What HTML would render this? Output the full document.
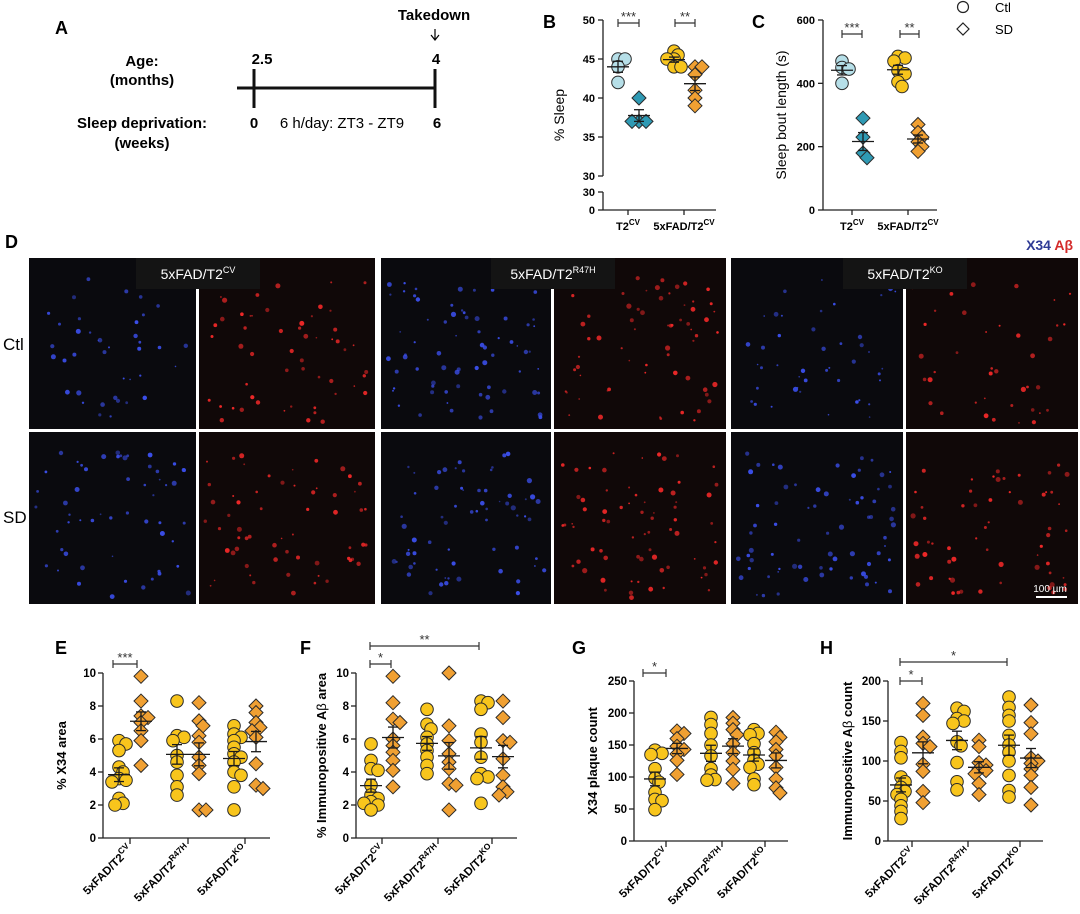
<!DOCTYPE html>
<html><head><meta charset="utf-8"><title>Sleep deprivation figure</title>
<style>
html,body{margin:0;padding:0;background:#fff;}
svg{display:block;font-family:"Liberation Sans",Arial,sans-serif;}
.b{font-weight:bold;}
</style></head>
<body>
<svg id="fig" width="1080" height="914" viewBox="0 0 1080 914" xmlns="http://www.w3.org/2000/svg">
  <g>
    <text x="55" y="34" font-size="18" class="b">A</text>
    <text x="434" y="20" font-size="15" class="b" text-anchor="middle">Takedown</text>
    <line x1="435" y1="29" x2="435" y2="39" stroke="#000" stroke-width="1.2"/>
    <path d="M431,35 L435,40 L439,35" fill="none" stroke="#000" stroke-width="1.2"/>
    <text x="142" y="66" font-size="15" class="b" text-anchor="middle">Age:</text>
    <text x="142" y="85" font-size="15" class="b" text-anchor="middle">(months)</text>
    <text x="262" y="64" font-size="15" class="b" text-anchor="middle">2.5</text>
    <text x="436" y="64" font-size="15" class="b" text-anchor="middle">4</text>
    <line x1="237" y1="88" x2="435" y2="88" stroke="#111" stroke-width="3"/>
    <line x1="254" y1="69" x2="254" y2="108" stroke="#111" stroke-width="3"/>
    <line x1="435" y1="69" x2="435" y2="108" stroke="#111" stroke-width="3"/>
    <text x="142" y="128" font-size="15" class="b" text-anchor="middle">Sleep deprivation:</text>
    <text x="142" y="148" font-size="15" class="b" text-anchor="middle">(weeks)</text>
    <text x="254" y="128" font-size="15" class="b" text-anchor="middle">0</text>
    <text x="437" y="128" font-size="15" class="b" text-anchor="middle">6</text>
    <text x="342" y="128" font-size="15" text-anchor="middle">6 h/day: ZT3 - ZT9</text>
  </g>
  <g>
    <circle cx="963" cy="7" r="5.5" fill="#fff" stroke="#222" stroke-width="1.2"/>
    <text x="995" y="12" font-size="13">Ctl</text>
    <path d="M963,23 L969,29 L963,35 L957,29 Z" fill="#fff" stroke="#222" stroke-width="1.2"/>
    <text x="995" y="34" font-size="13">SD</text>
  </g>
  <g id="charts"></g>
  <g id="panelD"></g>
</svg>
<script>
const B_categories = ["T2CV", "5xFAD/T2CV"];
const B_t2_ctl = [45, 45, 44, 42];
const B_t2_sd = [40, 37, 37, 37];
const B_fad_ctl = [46, 45.5, 45, 44, 44, 45];
const B_fad_sd = [44, 44, 43, 41, 40, 39];
const B_ticks = [30, 35, 40, 45, 50];
const C_t2_ctl = [470, 450, 445, 400];
const C_t2_sd = [290, 230, 180, 165];
const C_fad_ctl = [480, 485, 470, 440, 430, 405, 390];
const C_fad_sd = [270, 245, 230, 215, 200, 185];
const C_ticks = [0, 200, 400, 600];
const EH_categories = ["CV", "R47H", "KO"];
const E_ticks = [0, 2, 4, 6, 8, 10];
const E_cv_ctl = [5.9, 5.7, 5.3, 4.3, 4.0, 3.6, 3.5, 3.4, 2.4, 2.1, 2.0];
const E_cv_sd = [9.8, 8.3, 7.3, 7.4, 7.0, 6.5, 5.9, 4.4];
const E_r47h_ctl = [8.3, 6.2, 6.1, 5.9, 5.0, 4.6, 3.8, 3.1, 2.6];
const E_r47h_sd = [8.2, 7.1, 6.8, 6.2, 5.8, 4.9, 4.4, 3.9, 1.7, 1.7];
const E_ko_ctl = [6.8, 6.3, 6.1, 5.9, 5.5, 5.1, 4.9, 4.6, 4.0, 3.8, 3.1, 1.7];
const E_ko_sd = [8.0, 7.6, 7.0, 6.7, 6.5, 6.1, 4.5, 3.2, 3.0];
const F_ticks = [0, 2, 4, 6, 8, 10];
const F_cv_ctl = [5.7, 4.7, 4.2, 4.1, 3.2, 2.6, 2.4, 2.2, 2.1, 2.0, 1.7];
const F_cv_sd = [9.8, 8.2, 7.2, 7.0, 6.0, 5.6, 5.2, 4.7, 4.1, 3.1];
const F_r47h_ctl = [7.8, 6.9, 6.6, 6.1, 5.7, 5.3, 4.9, 4.4, 3.9];
const F_r47h_sd = [10, 6.8, 5.9, 5.1, 4.6, 4.2, 3.3, 3.2, 1.7];
const F_ko_ctl = [8.3, 8.2, 7.8, 6.3, 5.8, 4.9, 3.9, 3.7, 3.6, 2.1];
const F_ko_sd = [8.3, 7.3, 5.9, 5.8, 4.8, 3.8, 3.1, 2.8, 2.6];
const G_ticks = [0, 50, 100, 150, 200, 250];
const G_cv_ctl = [142, 137, 135, 113, 98, 92, 76, 65, 63, 49];
const G_cv_sd = [172, 168, 160, 148, 143, 136, 126, 104];
const G_r47h_ctl = [193, 182, 168, 150, 133, 113, 103, 96, 95];
const G_r47h_sd = [193, 184, 174, 166, 152, 138, 125, 112, 90];
const G_ko_ctl = [174, 168, 166, 152, 138, 126, 120, 115, 97, 88];
const G_ko_sd = [170, 162, 155, 143, 133, 115, 97, 83, 75];
const H_ticks = [0, 50, 100, 150, 200];
const H_cv_ctl = [123, 112, 104, 80, 74, 67, 62, 58, 52, 44, 37, 28];
const H_cv_sd = [172, 157, 130, 122, 118, 96, 87, 62, 48];
const H_r47h_ctl = [166, 162, 153, 150, 147, 124, 119, 98, 74, 64];
const H_r47h_sd = [126, 118, 98, 95, 90, 88, 84, 72, 58];
const H_ko_ctl = [180, 167, 157, 150, 132, 120, 111, 100, 82, 63, 55];
const H_ko_sd = [170, 148, 134, 104, 100, 97, 90, 82, 67, 45];

const NS = "http://www.w3.org/2000/svg";
const root = document.getElementById("charts");
function mk(tag, attrs, parent) {
  const e = document.createElementNS(NS, tag);
  for (const k in attrs) e.setAttribute(k, attrs[k]);
  (parent || root).appendChild(e);
  return e;
}
function mean(a) { return a.reduce((s, v) => s + v, 0) / a.length; }
function sem(a) { const m = mean(a); const v = a.reduce((s, x) => s + (x - m) * (x - m), 0) / (a.length - 1); return Math.sqrt(v / a.length); }

const YEL = "#f8c51c", ORA = "#f0a032", LBLUE = "#b6dfe8", TEAL = "#2f9ab4";

function drawGroup(g, vals, cx, yfn, shape, color, name) {
  const placed = [];
  const order = vals.map((v, i) => i).sort((a, b) => vals[b] - vals[a]);
  const grp = mk("g", {}, g);
  
  
  for (const i of order) {
    const y = yfn(vals[i]);
    const offs = [0, 4, -4, 7, -7];
    let x = cx;
    for (const o of offs) {
      if (placed.every(p => Math.hypot(p[0] - (cx + o), p[1] - y) > 5.5)) { x = cx + o; break; }
    }
    placed.push([x, y]);
    let m;
    if (shape === "c") m = mk("circle", { cx: x, cy: y, r: 6.3, fill: color, stroke: "#2a2a2a", "stroke-width": 1 }, grp);
    else m = mk("path", { d: `M${x},${y - 7} L${x + 7},${y} L${x},${y + 7} L${x - 7},${y} Z`, fill: color, stroke: "#2a2a2a", "stroke-width": 1 }, grp);
    
    
  }
  const mu = mean(vals), se = sem(vals);
  const st = { stroke: "#1a1a1a", "stroke-width": 1.3 };
  const ml = mk("line", Object.assign({ x1: cx - 11, x2: cx + 11, y1: yfn(mu), y2: yfn(mu) }, st), grp);
  
  
  mk("line", Object.assign({ x1: cx, x2: cx, y1: yfn(mu + se), y2: yfn(mu - se) }, st), grp);
  mk("line", Object.assign({ x1: cx - 5, x2: cx + 5, y1: yfn(mu + se), y2: yfn(mu + se) }, st), grp);
  mk("line", Object.assign({ x1: cx - 5, x2: cx + 5, y1: yfn(mu - se), y2: yfn(mu - se) }, st), grp);
}
function bracket(g, x1, x2, y, stars, name) {
  const bg = mk("g", { stroke: "#333", "stroke-width": 1.2 }, g);
  
  
  mk("line", { x1: x1, x2: x2, y1: y, y2: y }, bg);
  mk("line", { x1: x1, x2: x1, y1: y - 4, y2: y + 4 }, bg);
  mk("line", { x1: x2, x2: x2, y1: y - 4, y2: y + 4 }, bg);
  const t = mk("text", { x: (x1 + x2) / 2, y: y - 2, "font-size": 13, "text-anchor": "middle", fill: "#333", stroke: "none" }, g);
  t.textContent = stars;
}
function label(g, x, y, txt, size, bold, name, anchor) {
  const t = mk("text", { x: x, y: y, "font-size": size, "text-anchor": anchor || "start", "font-weight": bold ? "bold" : "normal" }, g);
  t.textContent = txt;
  
  
  return t;
}

(function () {
  const g = mk("g", {});  
  label(g, 543, 28, "B", 18, true, "panel-b-label");
  const ax = 603, y30 = 176, k = 7.8;
  const y = v => y30 - (v - 30) * k;
  const axs = { stroke: "#222", "stroke-width": 1.3 };
  mk("line", Object.assign({ x1: ax, x2: ax, y1: y(50), y2: y30 }, axs), g);
  mk("line", Object.assign({ x1: ax, x2: ax, y1: 192, y2: 210 }, axs), g);
  mk("line", Object.assign({ x1: ax, x2: 716, y1: 210, y2: 210 }, axs), g);
  for (const t of B_ticks) {
    mk("line", Object.assign({ x1: ax - 5, x2: ax, y1: y(t), y2: y(t) }, axs), g);
    label(g, ax - 8, y(t) + 4, String(t), 11, true, "y-tick-label", "end");
  }
  mk("line", Object.assign({ x1: ax - 5, x2: ax, y1: 192, y2: 192 }, axs), g);
  label(g, ax - 8, 196, "30", 11, true, "y-tick-label", "end");
  mk("line", Object.assign({ x1: ax - 5, x2: ax, y1: 210, y2: 210 }, axs), g);
  label(g, ax - 8, 214, "0", 11, true, "y-tick-label", "end");
  const t = label(g, 0, 0, "% Sleep", 14, false, "y-axis-title", "middle");
  t.setAttribute("transform", "translate(564,115) rotate(-90)");
  [628, 684].forEach(c => mk("line", Object.assign({ x1: c, x2: c, y1: 210, y2: 215 }, axs), g));
  drawGroup(g, B_t2_ctl, 618, y, "c", LBLUE, "t2-ctl");
  drawGroup(g, B_t2_sd, 639, y, "d", TEAL, "t2-sd");
  drawGroup(g, B_fad_ctl, 674, y, "c", YEL, "fad-ctl");
  drawGroup(g, B_fad_sd, 695, y, "d", ORA, "fad-sd");
  bracket(g, 618, 639, 23, "***", "sig-t2");
  bracket(g, 675, 695, 23, "**", "sig-fad");
  const l1 = mk("text", { x: 628, y: 230, "font-size": 11, "font-weight": "bold", "text-anchor": "middle" }, g);
  l1.innerHTML = 'T2<tspan font-size="8" dy="-5">CV</tspan>';
   
  const l2 = mk("text", { x: 684, y: 230, "font-size": 11, "font-weight": "bold", "text-anchor": "middle" }, g);
  l2.innerHTML = '5xFAD/T2<tspan font-size="8" dy="-5">CV</tspan>';
   
})();
(function () {
  const g = mk("g", {});  
  label(g, 752, 28, "C", 18, true, "panel-c-label");
  const ax = 823, y0 = 210, k = 190 / 600;
  const y = v => y0 - v * k;
  const axs = { stroke: "#222", "stroke-width": 1.3 };
  mk("line", Object.assign({ x1: ax, x2: ax, y1: y(600), y2: y0 }, axs), g);
  mk("line", Object.assign({ x1: ax, x2: 937, y1: y0, y2: y0 }, axs), g);
  for (const t of C_ticks) {
    mk("line", Object.assign({ x1: ax - 5, x2: ax, y1: y(t), y2: y(t) }, axs), g);
    label(g, ax - 8, y(t) + 4, String(t), 11, true, "y-tick-label", "end");
  }
  const t = label(g, 0, 0, "Sleep bout length (s)", 14, false, "y-axis-title", "middle");
  t.setAttribute("transform", "translate(786,115) rotate(-90)");
  [852, 908].forEach(c => mk("line", Object.assign({ x1: c, x2: c, y1: y0, y2: y0 + 5 }, axs), g));
  drawGroup(g, C_t2_ctl, 842, y, "c", LBLUE, "t2-ctl");
  drawGroup(g, C_t2_sd, 863, y, "d", TEAL, "t2-sd");
  drawGroup(g, C_fad_ctl, 898, y, "c", YEL, "fad-ctl");
  drawGroup(g, C_fad_sd, 918, y, "d", ORA, "fad-sd");
  bracket(g, 842, 862, 34, "***", "sig-t2");
  bracket(g, 900, 919, 34, "**", "sig-fad");
  const l1 = mk("text", { x: 852, y: 230, "font-size": 11, "font-weight": "bold", "text-anchor": "middle" }, g);
  l1.innerHTML = 'T2<tspan font-size="8" dy="-5">CV</tspan>';
   
  const l2 = mk("text", { x: 908, y: 230, "font-size": 11, "font-weight": "bold", "text-anchor": "middle" }, g);
  l2.innerHTML = '5xFAD/T2<tspan font-size="8" dy="-5">CV</tspan>';
   
})();

function panel(cfg) {
  const g = mk("g", {});
  
  
  label(g, cfg.lx, cfg.ly, cfg.letter, 18, true, cfg.name + "-letter");
  const max = cfg.ticks[cfg.ticks.length - 1];
  const y = v => cfg.y0 - v / max * (cfg.y0 - cfg.ytop);
  const axs = { stroke: "#222", "stroke-width": 1.3 };
  mk("line", Object.assign({ x1: cfg.ax, x2: cfg.ax, y1: cfg.ytop, y2: cfg.y0 }, axs), g);
  mk("line", Object.assign({ x1: cfg.ax, x2: cfg.xend, y1: cfg.y0, y2: cfg.y0 }, axs), g);
  for (const t of cfg.ticks) {
    mk("line", Object.assign({ x1: cfg.ax - 5, x2: cfg.ax, y1: y(t), y2: y(t) }, axs), g);
    label(g, cfg.ax - 7, y(t) + 4, String(t), 11.5, true, "y-tick-label", "end");
  }
  const tt = label(g, 0, 0, "", 13, true, "y-axis-title", "middle");
  tt.innerHTML = cfg.title;
  tt.setAttribute("transform", `translate(${cfg.tx},${(cfg.ytop + cfg.y0) / 2}) rotate(-90)`);
  const sups = ["CV", "R47H", "KO"];
  cfg.cats.forEach((c, i) => {
    mk("line", Object.assign({ x1: c, x2: c, y1: cfg.y0, y2: cfg.y0 + 6 }, axs), g);
    const l = mk("text", { "font-size": 11.5, "font-weight": "bold", "text-anchor": "end", transform: `translate(${c + 3},${cfg.y0 + 12}) rotate(-45)` }, g);
    l.innerHTML = `5xFAD/T2<tspan font-size="8.5" dy="-5">${sups[i]}</tspan>`;
    
    
    drawGroup(g, cfg.data[i][0], c - 11, y, "c", YEL, EH_categories[i].toLowerCase() + "-ctl");
    drawGroup(g, cfg.data[i][1], c + 11, y, "d", ORA, EH_categories[i].toLowerCase() + "-sd");
  });
  cfg.brackets.forEach(b => bracket(g, b[0], b[1], b[2], b[3], "significance-bracket"));
}
panel({ name: "panel-e-chart", letter: "E", lx: 55, ly: 654, ax: 103, ytop: 673, y0: 838, xend: 270, cats: [130, 188, 245], ticks: E_ticks, tx: 66,
  title: "% X34 area", data: [[E_cv_ctl, E_cv_sd], [E_r47h_ctl, E_r47h_sd], [E_ko_ctl, E_ko_sd]], brackets: [[113, 137, 664, "***"]] });
panel({ name: "panel-f-chart", letter: "F", lx: 300, ly: 654, ax: 356, ytop: 673, y0: 838, xend: 517, cats: [382, 438, 492], ticks: F_ticks, tx: 326,
  title: '% Immunopositive A<tspan font-weight="normal">β</tspan> area', data: [[F_cv_ctl, F_cv_sd], [F_r47h_ctl, F_r47h_sd], [F_ko_ctl, F_ko_sd]], brackets: [[370, 391, 664, "*"], [370, 479, 646, "**"]] });
panel({ name: "panel-g-chart", letter: "G", lx: 572, ly: 654, ax: 634, ytop: 681, y0: 841, xend: 788, cats: [666, 722, 765], ticks: G_ticks, tx: 597,
  title: "X34 plaque count", data: [[G_cv_ctl, G_cv_sd], [G_r47h_ctl, G_r47h_sd], [G_ko_ctl, G_ko_sd]], brackets: [[643, 666, 673, "*"]] });
panel({ name: "panel-h-chart", letter: "H", lx: 820, ly: 654, ax: 888, ytop: 681, y0: 841, xend: 1043, cats: [912, 968, 1020], ticks: H_ticks, tx: 852,
  title: 'Immunopositive A<tspan font-weight="normal">β</tspan> count', data: [[H_cv_ctl, H_cv_sd], [H_r47h_ctl, H_r47h_sd], [H_ko_ctl, H_ko_sd]], brackets: [[900, 922, 681, "*"], [900, 1007, 662, "*"]] });

(function () {
  const D = document.getElementById("panelD");
  let seed = 12345;
  const rnd = () => { seed = (seed * 1103515245 + 12345) % 2147483648; return seed / 2147483648; };
  const l = mk("text", { x: 5, y: 248, "font-size": 18, "font-weight": "bold" }, D); l.textContent = "D";
   
  const groups = [[29, 197, 375, "CV"], [381, 552, 726, "R47H"], [731, 904, 1078, "KO"]];
  const rows = [[258, 429], [432, 604]];
  const dens = [[40, 55], [55, 60], [70, 65], [65, 70], [45, 40], [70, 60]];
  groups.forEach((gr, gi) => {
    rows.forEach((r, ri) => {
      [[gr[0], gr[1] - 1, "b"], [gr[1] + 2, gr[2], "r"]].forEach((im, ii) => {
        const rect = mk("rect", { x: im[0], y: r[0], width: im[1] - im[0], height: r[1] - r[0], fill: im[2] === "b" ? "#0a0a0e" : "#100808" }, D);
        
        
        const n = (gi * 2 + ri) % 6;
        const count = ii ? dens[n][1] : dens[n][0];
        const col = im[2] === "b" ? "#3a4ee8" : "#f02828";
        for (let k = 0; k < count; k++) {
          const x = im[0] + 6 + rnd() * (im[1] - im[0] - 12);
          const yy = r[0] + 20 + rnd() * (r[1] - r[0] - 26);
          mk("circle", { cx: x.toFixed(1), cy: yy.toFixed(1), r: (0.8 + rnd() * 1.8).toFixed(1), fill: col, opacity: (0.5 + rnd() * 0.5).toFixed(2) }, D);
        }
      });
    });
    const cx = gr[1] + 1;
    const box = mk("rect", { x: cx - 62, y: 258, width: 124, height: 31, fill: "#141414" }, D);
     
    const t = mk("text", { x: cx, y: 279, "font-size": 14, fill: "#fff", "text-anchor": "middle" }, D);
    t.innerHTML = `5xFAD/T2<tspan font-size="9" dy="-6">${gr[3]}</tspan>`;
     
  });
  const ctl = mk("text", { x: 3, y: 350, "font-size": 17 }, D); ctl.textContent = "Ctl";
   
  const sd = mk("text", { x: 3, y: 523, "font-size": 17 }, D); sd.textContent = "SD";
   
  const st = mk("text", { x: 1073, y: 250, "font-size": 14, "font-weight": "bold", "text-anchor": "end" }, D);
  st.innerHTML = '<tspan fill="#2e3a95">X34 </tspan><tspan fill="#d42a2a">Aβ</tspan>';
   
  const sb = mk("line", { x1: 1036, x2: 1067, y1: 597, y2: 597, stroke: "#fff", "stroke-width": 2 }, D);
   
  const sbt = mk("text", { x: 1050, y: 592, "font-size": 10, fill: "#fff", "text-anchor": "middle" }, D);
  sbt.textContent = "100 µm";
   
})();
</script>
</body></html>
